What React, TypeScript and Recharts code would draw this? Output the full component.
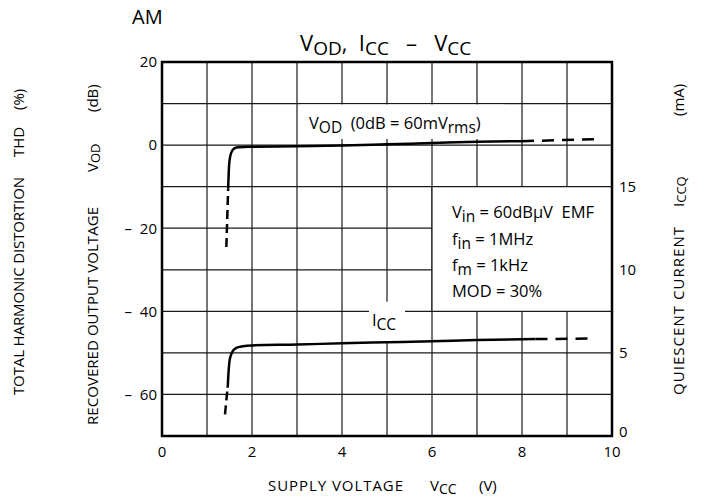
import React from "react";
import {
  LineChart,
  Line,
  XAxis,
  YAxis,
  CartesianGrid,
  ReferenceArea,
} from "recharts";

const FONT = "'Open Sans', 'DejaVu Sans', sans-serif";

// supply voltage grid (V); labels only on even steps
const xTicks = [0, 1, 2, 3, 4, 5, 6, 7, 8, 9, 10];
const xTickLabels = [0, 2, 4, 6, 8, 10];

// left axis: recovered output voltage (dB)
const dbTicks = [-70, -60, -50, -40, -30, -20, -10, 0, 10, 20];
const dbTickLabels = [-60, -40, -20, 0, 20];

// right axis: quiescent current (mA)
const maTicks = [0, 5, 10, 15];

// V_OD curve
const vodDashLowV = [1.43, 1.47];
const vodDashLowDb = [-24.5, -10.5];
const vodSolidV = [1.47, 1.49, 1.52, 1.57, 1.65, 1.8, 2, 3, 4, 5, 6, 7, 8];
const vodSolidDb = [-10.5, -5, -2.5, -1.2, -0.6, -0.45, -0.4, -0.3, -0.1, 0.2, 0.5, 0.8, 0.95];
const vodDashHighV = [8, 9.6];
const vodDashHighDb = [0.95, 1.4];

// I_CC curve
const iccDashLowV = [1.4, 1.45];
const iccDashLowMa = [1.3, 2.7];
const iccSolidV = [1.46, 1.48, 1.5, 1.55, 1.65, 1.8, 2, 3, 4, 5, 6, 7, 8, 8.3];
const iccSolidMa = [2.9, 3.9, 4.5, 5.0, 5.3, 5.4, 5.45, 5.5, 5.58, 5.64, 5.7, 5.77, 5.82, 5.83];
const iccDashHighV = [8.3, 9.5];
const iccDashHighMa = [5.83, 5.86];

const pts = (xs: number[], ys: number[]) => xs.map((x, i) => ({ x, y: ys[i] }));

const NB = "\u00a0";
const tickStyle = { fontSize: 15, fontFamily: FONT };

const XTick = (props: any) => {
  const { x, y, payload } = props;
  if (!xTickLabels.includes(payload.value)) return <g />;
  return (
    <text x={x} y={y} dy="0.71em" textAnchor="middle" style={tickStyle} fill="#000">
      {payload.value}
    </text>
  );
};

const LeftTick = (props: any) => {
  const { x, y, payload } = props;
  const v: number = payload.value;
  if (!dbTickLabels.includes(v)) return <g />;
  return (
    <text x={x} y={y} dy="0.355em" textAnchor="end" style={tickStyle} fill="#000">
      {v < 0 ? `\u2013${NB}${NB}${-v}` : `${v}`}
    </text>
  );
};

const RightTick = (props: any) => {
  const { x, y, payload } = props;
  const dy = payload.value === 0 ? -4 : 0;
  return (
    <text x={x} y={y + dy} dy="0.355em" textAnchor="start" style={tickStyle} fill="#000">
      {payload.value}
    </text>
  );
};

type Part = [string, boolean?];
type RichProps = {
  x: number;
  y: number;
  size: number;
  sub?: number;
  shift?: number;
  rot?: boolean;
  len?: number;
  parts: Part[];
};

// text with subscripts; parts flagged true are lowered
const Rich = ({ x, y, size, sub = size - 2, shift = 4, rot, len, parts }: RichProps) => {
  let cur = 0;
  return (
    <text
      x={x}
      y={y}
      transform={rot ? `rotate(-90 ${x} ${y})` : undefined}
      dominantBaseline={rot ? "central" : undefined}
      textLength={len}
      lengthAdjust={len ? "spacing" : undefined}
      style={{ fontSize: size, fontFamily: FONT }}
      fill="#000"
    >
      {parts.map(([t, isSub], i) => {
        const target = isSub ? shift : 0;
        const dy = target - cur;
        cur = target;
        return (
          <tspan key={i} dy={dy || undefined} style={{ fontSize: isSub ? sub : size }}>
            {t}
          </tspan>
        );
      })}
    </text>
  );
};

const Overlay = () => (
  <svg width={704} height={501} style={{ position: "absolute", left: 0, top: 0, pointerEvents: "none" }}>
    <Rich x={132} y={24} size={20} parts={[["AM"]]} />

    <Rich
      x={300}
      y={51}
      size={22}
      sub={19}
      shift={4}
      parts={[["V"], ["OD", true], [`,${NB}`], [" I"], ["CC", true], [`${NB}${NB}${NB}\u2013${NB}${NB}${NB}V`], ["CC", true]]}
    />

    <Rich x={18} y={395} size={15} rot len={218} parts={[["TOTAL HARMONIC DISTORTION"]]} />
    <Rich x={18} y={157} size={15} rot parts={[["THD"]]} />
    <Rich x={18} y={110} size={15} rot parts={[["(%)"]]} />

    <Rich x={92} y={425} size={15} rot len={218} parts={[["RECOVERED OUTPUT VOLTAGE"]]} />
    <Rich x={92} y={172} size={15} sub={13} shift={3} rot parts={[["V"], ["OD", true]]} />
    <Rich x={92} y={112} size={15} rot parts={[["(dB)"]]} />

    <Rich x={678} y={395} size={15} rot len={168} parts={[["QUIESCENT CURRENT"]]} />
    <Rich x={678} y={207} size={15} sub={13} shift={3} rot parts={[["I"], ["CCQ", true]]} />
    <Rich x={678} y={116} size={15} rot parts={[["(mA)"]]} />

    <Rich x={268} y={491} size={15} len={135} parts={[["SUPPLY VOLTAGE"]]} />
    <Rich x={430} y={491} size={15} sub={14} shift={3} parts={[["V"], ["CC", true]]} />
    <Rich x={479} y={491} size={15} parts={[["(V)"]]} />

    <Rich x={309} y={129} size={16.5} sub={15.5} parts={[["V"], ["OD", true], [`${NB}${NB}(0dB${NB}=${NB}60mV`], ["rms", true], [")"]]} />
    <Rich x={372} y={326} size={16.5} sub={15.5} parts={[["I"], ["CC", true]]} />
    <Rich x={452} y={218} size={16.5} sub={15.5} parts={[["V"], ["in", true], [`${NB}=${NB}60dB\u03bcV${NB}${NB}EMF`]]} />
    <Rich x={452} y={245} size={16.5} sub={15.5} parts={[["f"], ["in", true], [`${NB}=${NB}1MHz`]]} />
    <Rich x={452} y={271} size={16.5} sub={15.5} parts={[["f"], ["m", true], [`${NB}=${NB}1kHz`]]} />
    <Rich x={452} y={297} size={16.5} parts={[[`MOD${NB}=${NB}30%`]]} />
  </svg>
);

export default function App() {
  return (
    <div style={{ position: "absolute", left: 0, top: 0, width: 704, height: 501, background: "#fff" }}>
      <LineChart width={704} height={501} margin={{ top: 62, right: 52, bottom: 35, left: 102 }}>
        <XAxis
          xAxisId="v"
          type="number"
          dataKey="x"
          domain={[0, 10]}
          ticks={xTicks}
          tick={<XTick />}
          tickLine={false}
          axisLine={false}
          tickSize={0}
          tickMargin={10}
          height={30}
          interval={0}
          allowDataOverflow
        />
        <YAxis
          yAxisId="left"
          type="number"
          dataKey="y"
          domain={[-70, 20]}
          ticks={dbTicks}
          tick={<LeftTick />}
          tickLine={false}
          axisLine={false}
          tickSize={0}
          tickMargin={5}
          width={60}
          interval={0}
          allowDataOverflow
        />
        <YAxis
          yAxisId="right"
          orientation="right"
          type="number"
          dataKey="y"
          domain={[0, 22.5]}
          ticks={maTicks}
          tick={<RightTick />}
          tickLine={false}
          axisLine={false}
          tickSize={0}
          tickMargin={7}
          width={40}
          interval={0}
          allowDataOverflow
        />
        <CartesianGrid xAxisId="v" yAxisId="left" stroke="#1a1a1a" strokeWidth={1.2} />

        <ReferenceArea xAxisId="v" yAxisId="left" x1={3.07} x2={7.62} y1={1.5} y2={9.8} fill="#fff" fillOpacity={1} stroke="none" />
        <ReferenceArea xAxisId="v" yAxisId="left" x1={4.6} x2={5.4} y1={-47.3} y2={-37.7} fill="#fff" fillOpacity={1} stroke="none" />
        <ReferenceArea xAxisId="v" yAxisId="left" x1={6} x2={10} y1={-40} y2={-10} fill="#fff" fillOpacity={1} stroke="#1a1a1a" strokeWidth={1.2} />

        <Line xAxisId="v" yAxisId="left" data={pts(vodDashLowV, vodDashLowDb)} dataKey="y" type="linear" stroke="#000" strokeWidth={2.5} strokeDasharray="9 5" dot={false} isAnimationActive={false} />
        <Line xAxisId="v" yAxisId="left" data={pts(vodSolidV, vodSolidDb)} dataKey="y" type="monotone" stroke="#000" strokeWidth={2.5} dot={false} isAnimationActive={false} />
        <Line xAxisId="v" yAxisId="left" data={pts(vodDashHighV, vodDashHighDb)} dataKey="y" type="linear" stroke="#000" strokeWidth={2.5} strokeDasharray="12 8" dot={false} isAnimationActive={false} />

        <Line xAxisId="v" yAxisId="right" data={pts(iccDashLowV, iccDashLowMa)} dataKey="y" type="linear" stroke="#000" strokeWidth={2.5} strokeDasharray="9 5" dot={false} isAnimationActive={false} />
        <Line xAxisId="v" yAxisId="right" data={pts(iccSolidV, iccSolidMa)} dataKey="y" type="monotone" stroke="#000" strokeWidth={2.5} dot={false} isAnimationActive={false} />
        <Line xAxisId="v" yAxisId="right" data={pts(iccDashHighV, iccDashHighMa)} dataKey="y" type="linear" stroke="#000" strokeWidth={2.5} strokeDasharray="12 8" dot={false} isAnimationActive={false} />

        <ReferenceArea xAxisId="v" yAxisId="left" x1={0} x2={10} y1={-70} y2={20} fill="none" stroke="#000" strokeWidth={2.5} />
      </LineChart>
      <Overlay />
    </div>
  );
}
